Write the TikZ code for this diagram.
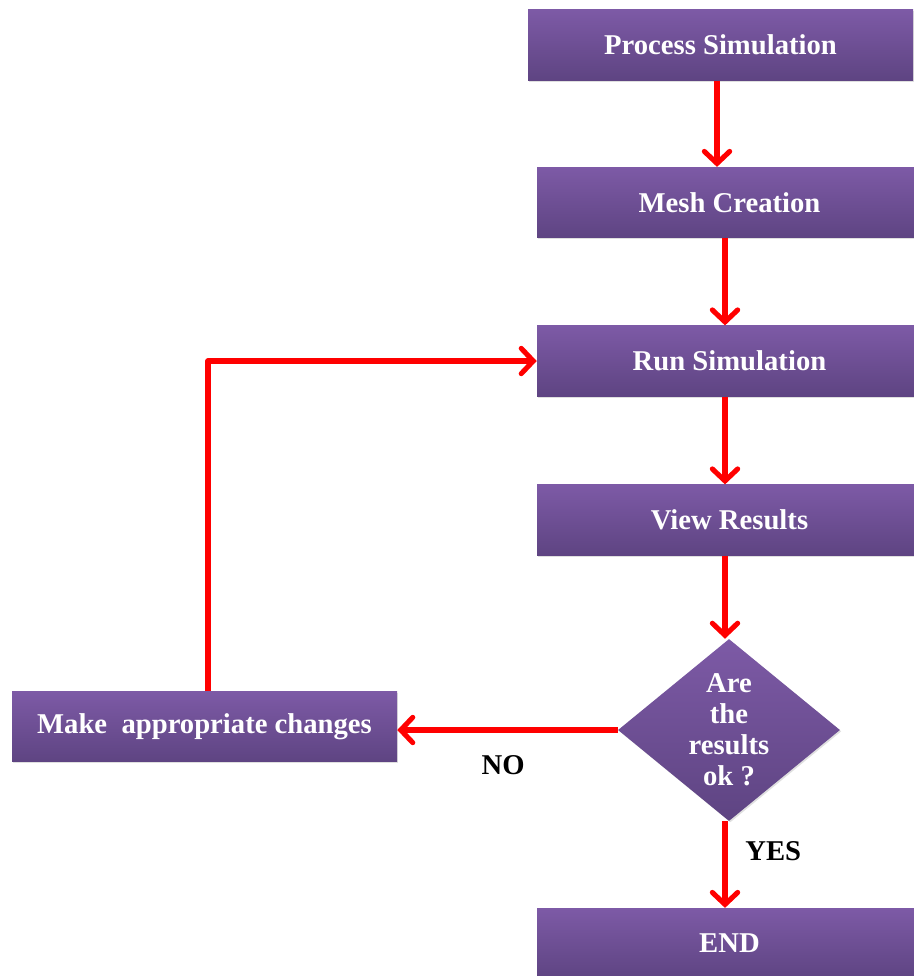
\documentclass[tikz,border=0pt]{standalone}
\usepackage{fontspec}
\setmainfont{Liberation Serif}
\usetikzlibrary{shapes.geometric,arrows.meta,shadows}
\definecolor{purpletop}{HTML}{7D5AA6}
\definecolor{purplebot}{HTML}{5E4482}
\definecolor{arrowred}{HTML}{FF0000}
\begin{document}
\begin{tikzpicture}[x=0.75pt,y=-0.75pt,>={Straight Barb[length=9pt,width=19pt,line cap=round]},font=\fontsize{21.5}{23.25}\selectfont\bfseries]
    \tikzstyle{blk}=[rectangle,top color=purpletop,bottom color=purplebot,draw=none,text=white,
        minimum width=288.75pt,minimum height=53pt,inner sep=0pt,
        drop shadow={opacity=0.25,shadow xshift=1pt,shadow yshift=-1pt}]
    \tikzstyle{dec}=[diamond,top color=purpletop,bottom color=purplebot,draw=none,text=white,
        minimum width=166.5pt,minimum height=136.5pt,inner sep=0pt,align=center,aspect=1.22,
        drop shadow={opacity=0.25,shadow xshift=1pt,shadow yshift=-1pt}]
    \tikzstyle{link}=[draw=arrowred,line width=3.8pt]
    \useasboundingbox (0,0) rectangle (914,976);

    \node[blk] (proc) at (720.5,45) {Process Simulation};
    \node[blk] (mesh) at (729.5,202.5) {Mesh Creation};
    \node[blk] (run) at (729.5,361) {Run Simulation};
    \node[blk] (view) at (729.5,520) {View Results};
    \node[dec] (check) at (729,730) {Are\\the\\results\\ok ?};
    \node[blk] (change) at (204.5,726.5) {Make\ \ appropriate changes};
    \node[blk] (stop) at (729.5,943.5) {END};

    \draw[link,->] (proc.south -| 717,0) to (mesh.north -| 717,0);
    \draw[link,->] (mesh.south -| 725,0) to (run.north -| 725,0);
    \draw[link,->] (run.south -| 725,0) to (view.north -| 725,0);
    \draw[link,->] (view.south -| 725,0) to (check.north -| 725,0);
    \draw[link,->] (check.south -| 725,0) to node[right=10pt,pos=0.35,text=black] {YES} (stop.north -| 725,0);
    \draw[link,->] (check.west) to node[below=14pt,pos=0.52,text=black] {NO} (check.west -| change.east);
    \draw[link,->,line join=round] (change.north -| 208,0) |- (run.west);
\end{tikzpicture}
\end{document}
